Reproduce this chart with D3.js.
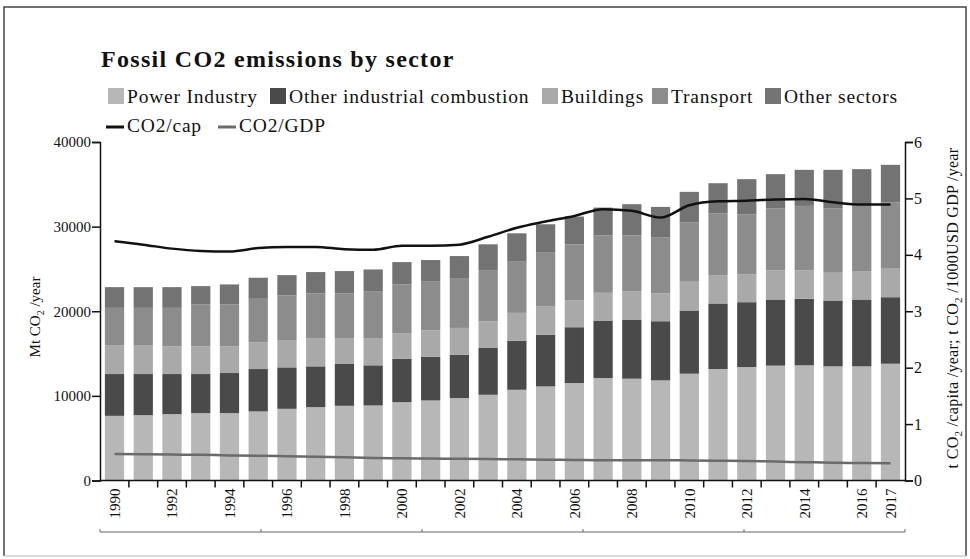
<!DOCTYPE html>
<html lang="en">
<head>
  <meta charset="UTF-8" />
  <script src="https://d3js.org/d3.v7.min.js"></script>
  <title>Fossil CO2 emissions by sector</title>
  <style>
    body { margin: 0; background: #fff; }
    text { font-family: "Liberation Serif", "DejaVu Serif", serif; fill: #111; }
  </style>
</head>
<body>
<script type="text/javascript">
	var width = 970; var height = 559;

	var years = [1990,1991,1992,1993,1994,1995,1996,1997,1998,1999,2000,2001,2002,2003,2004,2005,2006,2007,2008,2009,2010,2011,2012,2013,2014,2015,2016,2017];
	var yearLabels = [1990,1992,1994,1996,1998,2000,2002,2004,2006,2008,2010,2012,2014,2016,2017];

	// Mt CO2 / year per sector
	var powerIndustry = [7640,7720,7840,7960,7960,8160,8470,8670,8830,8870,9260,9460,9740,10130,10720,11120,11520,12110,12030,11830,12620,13170,13410,13570,13610,13490,13490,13800];
	var otherIndustrial = [4940,4860,4740,4620,4740,5010,4900,4820,4940,4740,5140,5140,5130,5530,5810,6120,6590,6790,6990,6990,7470,7750,7660,7820,7860,7780,7900,7860];
	var buildings = [3360,3360,3280,3280,3160,3160,3160,3280,3000,3160,2960,3150,3160,3160,3280,3360,3160,3280,3360,3280,3400,3350,3280,3440,3360,3280,3360,3370];
	var transport = [4460,4460,4540,4940,4940,5140,5330,5330,5330,5610,5810,5810,5810,6040,6120,6320,6640,6790,6590,6600,6990,7310,7110,7310,7620,7590,7900,7820];
	var otherSectors = [2450,2450,2450,2170,2370,2490,2410,2530,2650,2560,2640,2490,2680,3050,3280,3360,3280,3280,3680,3630,3630,3550,4150,4060,4260,4570,4140,4450];

	// t CO2 / capita / year and t CO2 / 1000 USD GDP / year
	var co2PerCap = [4.24,4.18,4.11,4.07,4.06,4.12,4.14,4.14,4.10,4.09,4.16,4.16,4.18,4.32,4.48,4.59,4.69,4.81,4.78,4.66,4.88,4.95,4.96,4.98,4.99,4.93,4.89,4.89];
	var co2PerGdp = [0.47,0.465,0.46,0.455,0.445,0.44,0.43,0.42,0.41,0.40,0.395,0.39,0.385,0.38,0.375,0.37,0.365,0.36,0.36,0.36,0.355,0.35,0.345,0.335,0.325,0.315,0.31,0.305];

	var sectorNames = ["Power Industry","Other industrial combustion","Buildings","Transport","Other sectors"];
	var sectorValues = [powerIndustry, otherIndustrial, buildings, transport, otherSectors];
	var sectorColors = ["#b7b7b7","#4a4a4a","#a9a9a9","#8c8c8c","#737373"];
	var lineNames = ["CO2/cap","CO2/GDP"];
	var lineColors = ["#111111","#6a6a6a"];

	var svg = d3.select("body").append("svg").attr("width", width).attr("height", height);

	// frame
	svg.append("rect").attr("x", 0).attr("y", 0).attr("width", width).attr("height", height).attr("fill", "#fff");
	svg.append("path").attr("d", "M4,556 L4,7 L966,7 L966,556").attr("fill", "none").attr("stroke", "#444").attr("stroke-width", 1.5);
	svg.append("line").attr("x1", 4).attr("x2", 966).attr("y1", 556).attr("y2", 556).attr("stroke", "#cfcfcf").attr("stroke-width", 1.5);

	var plotLeft = 100, plotRight = 905, plotTop = 142, plotBottom = 480.5;

	var x = d3.scaleBand().domain(years).range([plotLeft, plotRight]).paddingInner(0.33).paddingOuter(0.17);
	var y = d3.scaleLinear().domain([0, 40000]).range([plotBottom, plotTop]);
	var y2 = d3.scaleLinear().domain([0, 6]).range([plotBottom, plotTop]);

	// stacked bars
	var table = years.map(function(yr, i){
		var row = {year: yr};
		sectorNames.forEach(function(n, k){ row[n] = sectorValues[k][i]; });
		return row;
	});
	var stacked = d3.stack().keys(sectorNames)(table);

	svg.append("g").selectAll("g").data(stacked).enter().append("g")
		.attr("fill", function(d, k){ return sectorColors[k]; })
		.selectAll("rect").data(function(d){ return d; }).enter().append("rect")
		.attr("x", function(d){ return x(d.data.year); })
		.attr("width", x.bandwidth())
		.attr("y", function(d){ return y(d[1]); })
		.attr("height", function(d){ return y(d[0]) - y(d[1]); });

	// lines
	var line = d3.line().curve(d3.curveMonotoneX)
		.x(function(d, i){ return x(years[i]) + x.bandwidth()/2; })
		.y(function(d){ return y2(d); });
	svg.append("path").datum(co2PerGdp).attr("d", line).attr("fill", "none").attr("stroke", lineColors[1]).attr("stroke-width", 2.5);
	svg.append("path").datum(co2PerCap).attr("d", line).attr("fill", "none").attr("stroke", lineColors[0]).attr("stroke-width", 2.5);

	// left axis
	var yAxis = svg.append("g").attr("transform", "translate(" + plotLeft + ",0)")
		.call(d3.axisLeft(y).tickValues([0,10000,20000,30000,40000]).tickFormat(d3.format("d")).tickSize(8).tickPadding(1));
	yAxis.selectAll("text").style("font-size", "15px");
	yAxis.select(".domain").attr("stroke", "#111").attr("stroke-width", 1.5);
	yAxis.selectAll(".tick line").attr("stroke", "#111").attr("stroke-width", 1.5);

	// right axis
	var yAxis2 = svg.append("g").attr("transform", "translate(" + plotRight + ",0)")
		.call(d3.axisRight(y2).tickValues([0,1,2,3,4,5,6]).tickFormat(d3.format("d")).tickSize(8).tickPadding(1));
	yAxis2.selectAll("text").style("font-size", "16px");
	yAxis2.select(".domain").attr("stroke", "#111").attr("stroke-width", 1.5);
	yAxis2.selectAll(".tick line").attr("stroke", "#111").attr("stroke-width", 1.5);

	// x axis
	svg.append("line").attr("x1", plotLeft).attr("x2", plotRight).attr("y1", plotBottom).attr("y2", plotBottom).attr("stroke", "#111").attr("stroke-width", 1.5);
	var step = x.step();
	var boundaries = years.slice(1).map(function(yr){ return x(yr) - step * x.paddingInner() / 2; });
	svg.append("g").selectAll("line").data(boundaries).enter().append("line")
		.attr("x1", function(d){ return d; }).attr("x2", function(d){ return d; })
		.attr("y1", plotBottom).attr("y2", plotBottom + 7).attr("stroke", "#111").attr("stroke-width", 1.5);

	var xAxis = svg.append("g").attr("transform", "translate(0," + plotBottom + ")")
		.call(d3.axisBottom(x).tickValues(yearLabels).tickSize(0));
	xAxis.select(".domain").remove();
	xAxis.selectAll("text")
		.style("font-size", "15px")
		.attr("text-anchor", "end")
		.attr("dx", "-8")
		.attr("dy", "0.35em")
		.attr("transform", "rotate(-90)")
		.attr("y", 0).attr("x", 0);

	// lower category bracket
	var seg = d3.scaleLinear().domain([0, 5]).range([plotLeft, plotRight]);
	svg.append("line").attr("x1", plotLeft).attr("x2", plotRight).attr("y1", 532).attr("y2", 532).attr("stroke", "#666").attr("stroke-width", 1);
	svg.append("g").selectAll("line").data(d3.range(6)).enter().append("line")
		.attr("x1", function(d){ return seg(d); }).attr("x2", function(d){ return seg(d); })
		.attr("y1", 529).attr("y2", 532).attr("stroke", "#666").attr("stroke-width", 1);

	// axis titles
	var lt = svg.append("text").attr("transform", "translate(40,317) rotate(-90)").attr("text-anchor", "middle").style("font-size", "15px");
	lt.append("tspan").text("Mt CO");
	lt.append("tspan").text("2").attr("dy", "4").style("font-size", "10px");
	lt.append("tspan").text(" /year").attr("dy", "-4");

	var rt = svg.append("text").attr("transform", "translate(958,308) rotate(-90)").attr("text-anchor", "middle")
		.style("font-size", "16px").style("letter-spacing", "0.3px");
	rt.append("tspan").text("t CO");
	rt.append("tspan").text("2").attr("dy", "4").style("font-size", "11px");
	rt.append("tspan").text(" /capita /year; t CO").attr("dy", "-4");
	rt.append("tspan").text("2").attr("dy", "4").style("font-size", "11px");
	rt.append("tspan").text(" /1000USD GDP /year").attr("dy", "-4");

	// title
	svg.append("text").attr("x", 101).attr("y", 67).style("font-size", "24px").style("font-weight", "bold")
		.style("letter-spacing", "1.3px").text("Fossil CO2 emissions by sector");

	// legend
	var legendX = [108, 270, 542, 652, 765];
	var lg = svg.append("g").selectAll("g").data(sectorNames).enter().append("g")
		.attr("transform", function(d, k){ return "translate(" + legendX[k] + ",0)"; });
	lg.append("rect").attr("x", 0).attr("y", 88).attr("width", 16).attr("height", 16).attr("fill", function(d, k){ return sectorColors[k]; });
	lg.append("text").attr("x", 19).attr("y", 103).style("font-size", "19.5px").style("letter-spacing", "0.8px").text(function(d){ return d; });

	var lineLegendX = [106, 218];
	var ll = svg.append("g").selectAll("g").data(lineNames).enter().append("g")
		.attr("transform", function(d, k){ return "translate(" + lineLegendX[k] + ",0)"; });
	ll.append("line").attr("x1", 0).attr("x2", 18).attr("y1", 127).attr("y2", 127).attr("stroke", function(d, k){ return lineColors[k]; }).attr("stroke-width", 3);
	ll.append("text").attr("x", 21).attr("y", 132).style("font-size", "19.5px").style("letter-spacing", "0.8px").text(function(d){ return d; });
</script>
</body>
</html>
